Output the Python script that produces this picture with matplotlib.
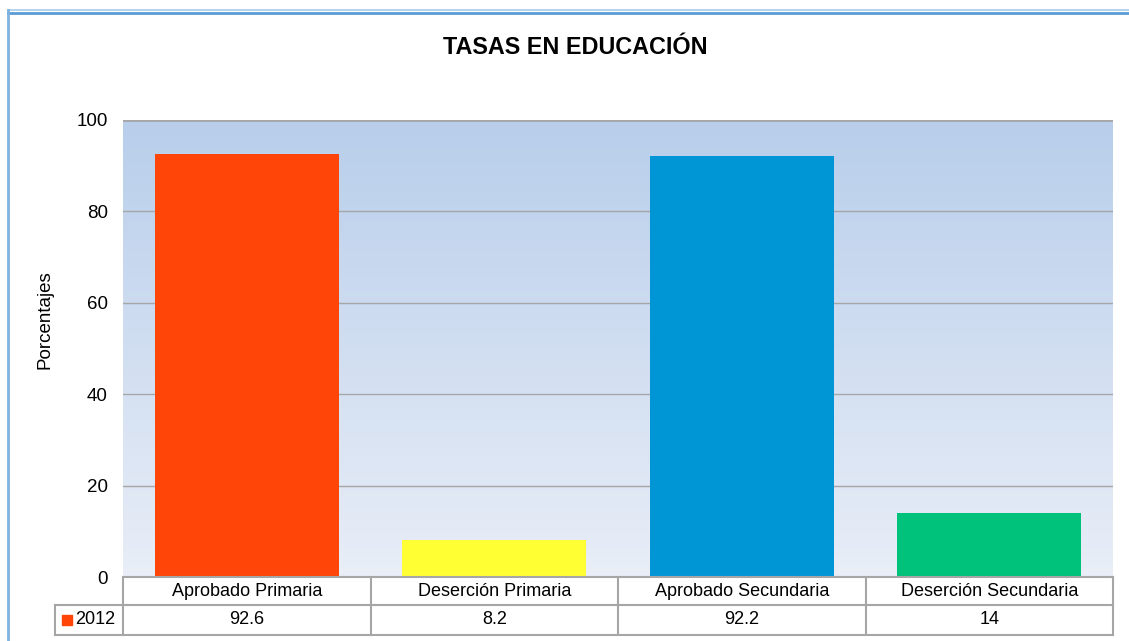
import numpy as np
import matplotlib
matplotlib.use("Agg")
import matplotlib.pyplot as plt
from matplotlib.lines import Line2D
from matplotlib.patches import Rectangle

plt.rcParams["font.family"] = ["Liberation Sans", "DejaVu Sans"]

categorias = ["Aprobado Primaria", "Deserción Primaria", "Aprobado Secundaria", "Deserción Secundaria"]
valores = [92.6, 8.2, 92.2, 14]
etiquetas_valores = ["92.6", "8.2", "92.2", "14"]
serie = "2012"
colores = ["#FF4508", "#FFFF33", "#0096D6", "#00C27A"]
titulo = "TASAS EN EDUCACIÓN"

W, H = 1129, 641
fig = plt.figure(figsize=(W / 100, H / 100), dpi=100)

# outer frame (top and left double blue line)
fig.add_artist(Line2D([8 / W, 1], [1 - 9.5 / H] * 2, color="#A9CBE8", lw=1.2))
fig.add_artist(Line2D([8 / W, 1], [1 - 13 / H] * 2, color="#5B9BD5", lw=2.0))
fig.add_artist(Line2D([8 / W] * 2, [0, 1 - 9.5 / H], color="#7FB2DE", lw=2.0))

ax = fig.add_axes([123 / W, 1 - 577 / H, (1113 - 123) / W, (577 - 120) / H])
n = len(categorias)
ax.set_xlim(-0.5, n - 0.5)
ax.set_ylim(0, 100)

# gradient background
grad = np.linspace(0, 1, 256).reshape(-1, 1)
top = np.array([0.722, 0.808, 0.922])
bot = np.array([0.914, 0.933, 0.969])
img = (bot + (top - bot) * grad)[:, None, :]
ax.imshow(img, extent=(-0.5, n - 0.5, 0, 100), origin="lower", aspect="auto", zorder=0)

for y in [20, 40, 60, 80]:
    ax.axhline(y, color="#A6A6A6", lw=1.0, zorder=1)

x = np.arange(n)
ax.bar(x, valores, width=0.745, color=colores, zorder=2)

for s in ax.spines.values():
    s.set_visible(False)
ax.axhline(100, color="#A6A6A6", lw=2.0, zorder=3)
ax.set_yticks([0, 20, 40, 60, 80, 100])
ax.tick_params(axis="y", length=0, pad=11, labelsize=13.5)
ax.set_xticks([])

fig.text(45 / W, 1 - 320 / H, "Porcentajes", rotation=90, ha="center", va="center",
         fontsize=13.5)
fig.text(575 / W, 1 - 47 / H, titulo, ha="center", va="center",
         fontsize=16.8, fontweight="bold")

# data table below the axis
tr = ax.get_xaxis_transform()
r1 = -28 / 457
r2 = -58 / 457
left = -0.5 - 68 / 247.5
gc = "#A6A6A6"
kw = dict(transform=tr, color=gc, lw=1.5, clip_on=False)
ax.add_line(Line2D([-0.5, n - 0.5], [0, 0], **kw))
ax.add_line(Line2D([left, n - 0.5], [r1, r1], **kw))
ax.add_line(Line2D([left, n - 0.5], [r2, r2], **kw))
ax.add_line(Line2D([left, left], [r1, r2], **kw))
for b in np.arange(n + 1) - 0.5:
    ax.add_line(Line2D([b, b], [0, r2], **kw))

for i in range(n):
    ax.text(x[i], r1 / 2, categorias[i], transform=tr, ha="center", va="center",
            fontsize=13, clip_on=False)
    ax.text(x[i], (r1 + r2) / 2, etiquetas_valores[i], transform=tr, ha="center",
            va="center", fontsize=13, clip_on=False)

sq = 10 / 247.5
ax.add_patch(Rectangle((left + 7 / 247.5, (r1 + r2) / 2 - 5 / 457), sq, 10 / 457,
                       transform=tr, color=colores[0], clip_on=False))
ax.text(left + 20 / 247.5, (r1 + r2) / 2, serie, transform=tr, ha="left",
        va="center", fontsize=13, clip_on=False)

fig.savefig("out.png", dpi=100)
